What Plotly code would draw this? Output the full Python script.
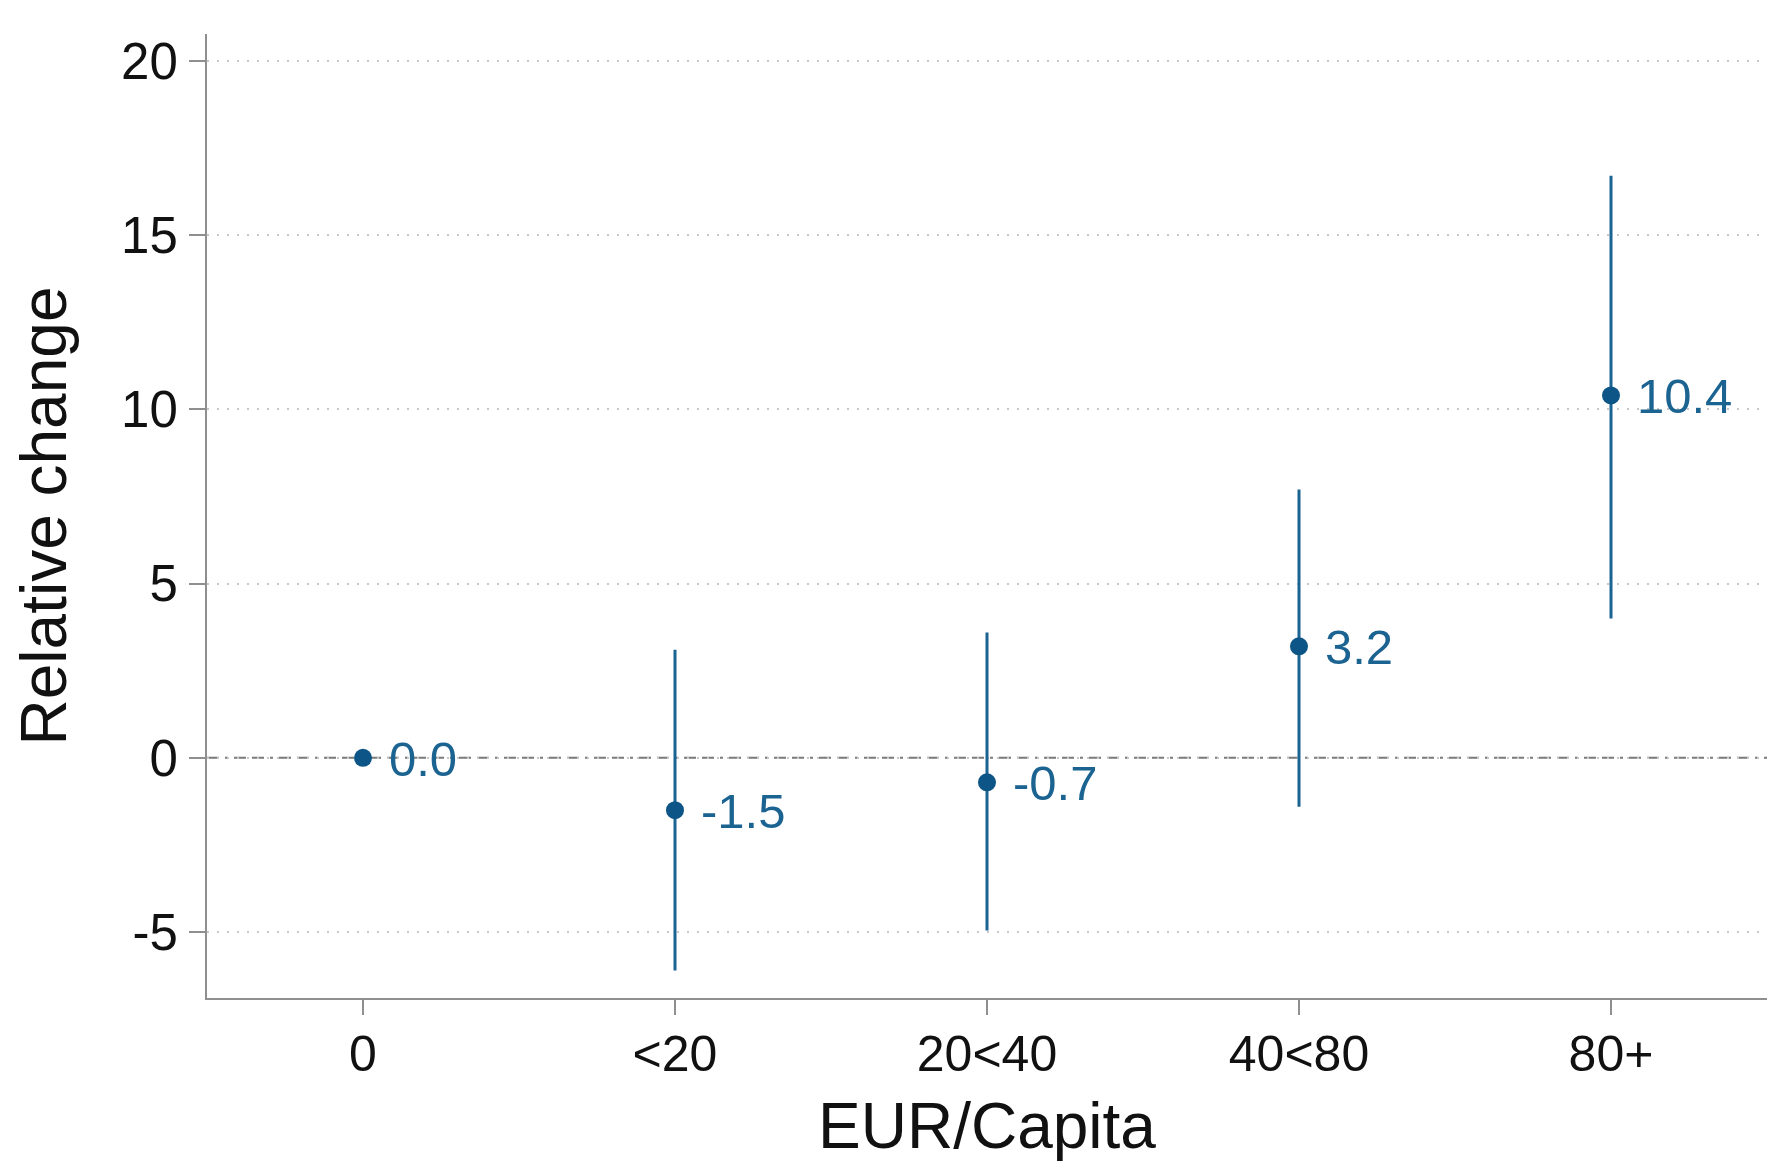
import plotly.graph_objects as go

categories = ["0", "<20", "20<40", "40<80", "80+"]
estimates = [0.0, -1.5, -0.7, 3.2, 10.4]
ci_low = [0.0, -6.1, -4.95, -1.4, 4.0]
ci_high = [0.0, 3.1, 3.6, 7.7, 16.7]
ytick_vals = [-5, 0, 5, 10, 15, 20]
ytick_text = ["-5", "0", "5", "10", "15", "20"]

x_pos = list(range(len(categories)))
err_plus = [h - e for h, e in zip(ci_high, estimates)]
err_minus = [e - l for e, l in zip(estimates, ci_low)]
labels = [f"{v:.1f}" for v in estimates]

line_col = "#1b6391"
dot_col = "#0c5586"
axis_col = "#8f8f8f"
font_fam = "Liberation Sans, Arial, sans-serif"

fig = go.Figure()
fig.add_hline(y=0, line=dict(color="#7a7a7a", width=2, dash="12px,6px,3px,6px,12px,6px"), layer="below")
fig.add_trace(go.Scatter(
    x=x_pos, y=estimates,
    mode="markers",
    marker=dict(color=dot_col, size=18),
    error_y=dict(type="data", symmetric=False, array=err_plus, arrayminus=err_minus,
                 color=line_col, thickness=3, width=0),
    showlegend=False,
))
for xp, yv, lab in zip(x_pos, estimates, labels):
    fig.add_annotation(x=xp, y=yv, text=lab, showarrow=False,
                       xanchor="left", yanchor="middle", xshift=24, yshift=-1,
                       font=dict(size=49, color=line_col, family=font_fam))

fig.update_layout(
    width=1785, height=1170,
    paper_bgcolor="white", plot_bgcolor="white",
    margin=dict(l=199, r=26, t=26, b=180),
    font=dict(family=font_fam, color="#111111"),
)
fig.update_xaxes(
    range=[-0.5, 4.5],
    tickmode="array", tickvals=x_pos, ticktext=categories,
    tickfont=dict(size=50, color="#111111"),
    ticks="outside", ticklen=15, tickwidth=2, tickcolor=axis_col,
    ticklabelstandoff=-4,
    showline=True, linecolor=axis_col, linewidth=2,
    showgrid=False, zeroline=False,
    title=dict(text="EUR/Capita", font=dict(size=64, color="#111111"), standoff=22),
)
fig.update_yaxes(
    range=[-6.89, 20.77],
    tickmode="array", tickvals=ytick_vals, ticktext=ytick_text,
    tickfont=dict(size=51, color="#111111"),
    ticks="outside", ticklen=16, tickwidth=2, tickcolor=axis_col,
    ticklabelstandoff=1,
    showline=True, linecolor=axis_col, linewidth=2,
    showgrid=True, gridcolor="#c8c8c8", gridwidth=1.5, griddash="2px,8px",
    zeroline=False,
    title=dict(text="Relative change", font=dict(size=64, color="#111111"), standoff=40),
)

fig.write_html("out.html")
